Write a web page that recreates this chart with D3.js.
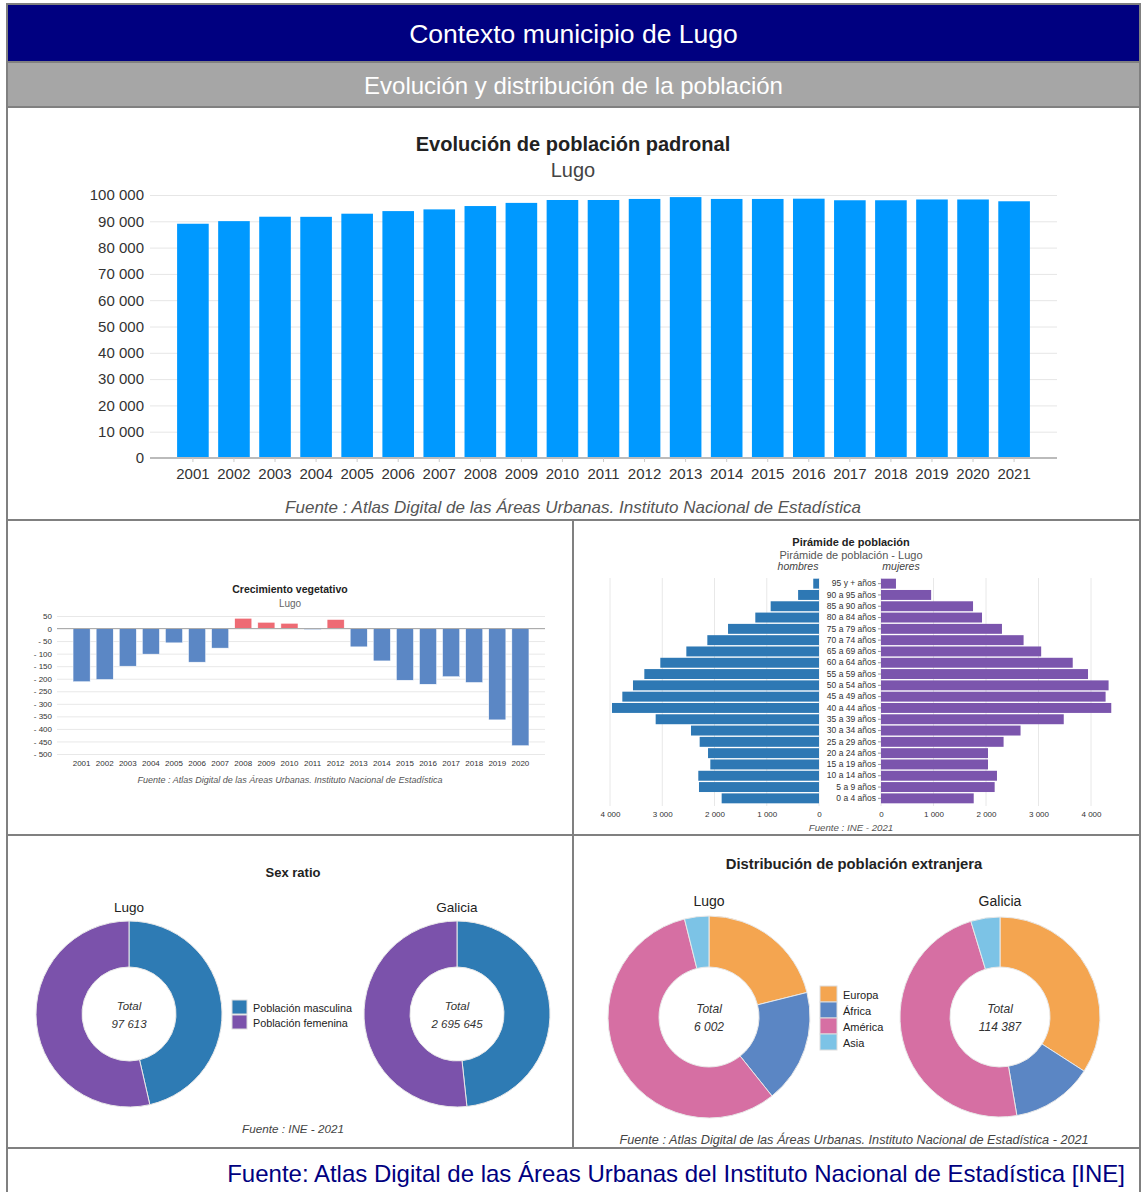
<!DOCTYPE html>
<html>
<head>
<meta charset="utf-8">
<script src="https://cdn.jsdelivr.net/npm/d3@7"></script>
<style>
  body { margin: 0; background: #fff; }
  text { font-family: "Liberation Sans", Arial, sans-serif; }
</style>
</head>
<body>
<div id="panel"></div>
<script>
// datos
var years = ["2001","2002","2003","2004","2005","2006","2007","2008","2009","2010","2011",
             "2012","2013","2014","2015","2016","2017","2018","2019","2020","2021"];
var poblacion = [89070, 90060, 91740, 91700, 92890, 93880, 94530, 95800, 97000, 98100, 98100,
                 98500, 99200, 98500, 98500, 98600, 98000, 98000, 98300, 98300, 97613];

var crecYears = ["2001","2002","2003","2004","2005","2006","2007","2008","2009","2010",
                 "2011","2012","2013","2014","2015","2016","2017","2018","2019","2020"];
var crecimiento = [-212, -203, -150, -102, -57, -134, -78, 41, 25, 21,
                   -4, 36, -73, -129, -206, -222, -192, -215, -364, -467];

var edades = ["95 y + años","90 a 95 años","85 a 90 años","80 a 84 años","75 a 79 años",
              "70 a 74 años","65 a 69 años","60 a 64 años","55 a 59 años","50 a 54 años",
              "45 a 49 años","40 a 44 años","35 a 39 años","30 a 34 años","25 a 29 años",
              "20 a 24 años","15 a 19 años","10 a 14 años","5 a 9 años","0 a 4 años"];
var hombres = [110, 400, 925, 1219, 1741, 2137, 2539, 3037, 3343, 3560,
               3764, 3962, 3126, 2450, 2284, 2124, 2080, 2310, 2297, 1863];
var mujeres = [285, 955, 1753, 1924, 2304, 2716, 3051, 3652, 3943, 4335,
               4278, 4386, 3481, 2658, 2335, 2038, 2038, 2209, 2165, 1766];
var pyrTicks = [0, 1000, 2000, 3000, 4000];

var sexoLabels = ["Población masculina", "Población femenina"];
var sexoLugo = [45300, 52313];
var sexoGalicia = [1302000, 1393645];

var continentes = ["Europa", "África", "América", "Asia"];
var extLugo = [1266, 1092, 3410, 234];
var extGalicia = [39006, 15099, 54906, 5376];

var locale = d3.formatLocale({decimal: ",", thousands: " ", grouping: [3], currency: ["", "€"]});
var fmt = locale.format(",d");

var W = 1141, H = 1192;
var svg = d3.select("#panel")
  .append("svg")
    .attr("width", W)
    .attr("height", H);

// ---------- cabeceras y marcos ----------
svg.append("rect").attr("x", 7).attr("y", 4).attr("width", 1133).attr("height", 58).attr("fill", "#000080");
svg.append("rect").attr("x", 7).attr("y", 62).attr("width", 1133).attr("height", 45).attr("fill", "#a6a6a6");
svg.append("text").attr("x", 573.5).attr("y", 43).attr("text-anchor", "middle")
  .attr("fill", "#fff").attr("font-size", 26.5).text("Contexto municipio de Lugo");
svg.append("text").attr("x", 573.5).attr("y", 94).attr("text-anchor", "middle")
  .attr("fill", "#fff").attr("font-size", 24).text("Evolución y distribución de la población");

var frame = svg.append("g").attr("stroke", "#808080").attr("stroke-width", 2).attr("fill", "none");
frame.append("rect").attr("x", 7).attr("y", 4).attr("width", 1133).attr("height", 1192);
frame.append("line").attr("x1", 7).attr("x2", 1140).attr("y1", 62).attr("y2", 62);
frame.append("line").attr("x1", 7).attr("x2", 1140).attr("y1", 107).attr("y2", 107);
frame.append("line").attr("x1", 7).attr("x2", 1140).attr("y1", 520).attr("y2", 520);
frame.append("line").attr("x1", 7).attr("x2", 1140).attr("y1", 835).attr("y2", 835);
frame.append("line").attr("x1", 7).attr("x2", 1140).attr("y1", 1148).attr("y2", 1148);
frame.append("line").attr("x1", 573).attr("x2", 573).attr("y1", 520).attr("y2", 1148);

svg.append("text").attr("x", 1125).attr("y", 1182).attr("text-anchor", "end")
  .attr("fill", "#000080").attr("font-size", 24)
  .text("Fuente: Atlas Digital de las Áreas Urbanas del Instituto Nacional de Estadística [INE]");

// ---------- evolucion de poblacion ----------
var g1 = svg.append("g");
var x1 = d3.scaleBand().domain(years).range([150, 1057]).paddingInner(0.23).paddingOuter(0.66);
var y1 = d3.scaleLinear().domain([0, 100000]).range([458, 195]);

g1.append("g")
  .attr("transform", "translate(150,0)")
  .call(d3.axisLeft(y1).ticks(10).tickSize(-907).tickFormat(""))
  .call(function(g) { g.select(".domain").remove(); })
  .selectAll("line").attr("stroke", "#e6e6e6");

g1.append("g")
  .attr("transform", "translate(147,0)")
  .call(d3.axisLeft(y1).ticks(10).tickSize(0).tickFormat(fmt))
  .call(function(g) { g.select(".domain").remove(); })
  .selectAll("text").attr("font-size", 15).attr("fill", "#333")
  .attr("font-family", "Liberation Sans, Arial, sans-serif");

g1.selectAll(".bar")
  .data(poblacion)
  .enter().append("rect")
    .attr("x", function(d, i) { return x1(years[i]); })
    .attr("y", function(d) { return y1(d); })
    .attr("width", x1.bandwidth())
    .attr("height", function(d) { return y1(0) - y1(d); })
    .attr("fill", "#0099ff");

g1.append("g")
  .attr("transform", "translate(0,458)")
  .call(d3.axisBottom(x1).tickSize(4).tickPadding(6))
  .call(function(g) { g.select(".domain").attr("stroke", "#bbb").attr("stroke-width", 2).attr("d", "M150,0H1057"); })
  .call(function(g) { g.selectAll("line").attr("stroke", "#ccc"); })
  .selectAll("text").attr("font-size", 15).attr("fill", "#333")
  .attr("font-family", "Liberation Sans, Arial, sans-serif");

g1.append("text").attr("x", 573).attr("y", 151).attr("text-anchor", "middle")
  .attr("font-size", 20).attr("font-weight", "bold").attr("fill", "#222").text("Evolución de población padronal");
g1.append("text").attr("x", 573).attr("y", 177).attr("text-anchor", "middle")
  .attr("font-size", 20).attr("fill", "#444").text("Lugo");
g1.append("text").attr("x", 573).attr("y", 513).attr("text-anchor", "middle")
  .attr("font-size", 17).attr("font-style", "italic").attr("fill", "#555")
  .text("Fuente : Atlas Digital de las Áreas Urbanas. Instituto Nacional de Estadística");

// ---------- crecimiento vegetativo ----------
var g2 = svg.append("g");
var x2 = d3.scaleBand().domain(crecYears).range([57, 545]).paddingInner(0.26).paddingOuter(0.695);
var y2 = d3.scaleLinear().domain([-500, 50]).range([754, 616]);
var crecTicks = d3.range(-500, 51, 50);

g2.append("g")
  .attr("transform", "translate(57,0)")
  .call(d3.axisLeft(y2).tickValues(crecTicks).tickSize(-488).tickFormat(""))
  .call(function(g) { g.select(".domain").remove(); })
  .selectAll("line").attr("stroke", "#e8e8e8");

g2.append("g")
  .attr("transform", "translate(55,0)")
  .call(d3.axisLeft(y2).tickValues(crecTicks).tickSize(0)
    .tickFormat(function(d) { return d < 0 ? "- " + (-d) : d; }))
  .call(function(g) { g.select(".domain").remove(); })
  .selectAll("text").attr("font-size", 8).attr("fill", "#333")
  .attr("font-family", "Liberation Sans, Arial, sans-serif");

g2.selectAll(".bar")
  .data(crecimiento)
  .enter().append("rect")
    .attr("x", function(d, i) { return x2(crecYears[i]); })
    .attr("y", function(d) { return y2(Math.max(0, d)); })
    .attr("width", x2.bandwidth())
    .attr("height", function(d) { return Math.abs(y2(d) - y2(0)); })
    .attr("fill", function(d) { return d < 0 ? "#5b87c5" : "#ee6b74"; })
    .attr("stroke", "#fff").attr("stroke-width", 0.5);

g2.append("line").attr("x1", 57).attr("x2", 545).attr("y1", y2(0)).attr("y2", y2(0))
  .attr("stroke", "#aaa");

g2.append("g")
  .attr("transform", "translate(0,757)")
  .call(d3.axisBottom(x2).tickSize(0).tickPadding(3))
  .call(function(g) { g.select(".domain").remove(); })
  .selectAll("text").attr("font-size", 8).attr("fill", "#333")
  .attr("font-family", "Liberation Sans, Arial, sans-serif");

g2.append("text").attr("x", 290).attr("y", 593).attr("text-anchor", "middle")
  .attr("font-size", 10.5).attr("font-weight", "bold").attr("fill", "#222").text("Crecimiento vegetativo");
g2.append("text").attr("x", 290).attr("y", 607).attr("text-anchor", "middle")
  .attr("font-size", 10).attr("fill", "#666").text("Lugo");
g2.append("text").attr("x", 290).attr("y", 783).attr("text-anchor", "middle")
  .attr("font-size", 9).attr("font-style", "italic").attr("fill", "#555")
  .text("Fuente : Atlas Digital de las Áreas Urbanas. Instituto Nacional de Estadística");

// ---------- piramide ----------
var g3 = svg.append("g");
var yP = d3.scaleBand().domain(edades).range([578, 804]).paddingInner(0.12).paddingOuter(0.06);
var xL = d3.scaleLinear().domain([0, 4000]).range([819, 610]);
var xR = d3.scaleLinear().domain([0, 4000]).range([881, 1091]);

g3.selectAll(".gl").data(pyrTicks).enter().append("line")
  .attr("x1", function(d) { return xL(d); }).attr("x2", function(d) { return xL(d); })
  .attr("y1", 578).attr("y2", 806).attr("stroke", "#e8e8e8");
g3.selectAll(".gr").data(pyrTicks).enter().append("line")
  .attr("x1", function(d) { return xR(d); }).attr("x2", function(d) { return xR(d); })
  .attr("y1", 578).attr("y2", 806).attr("stroke", "#e8e8e8");

g3.selectAll(".hb").data(hombres).enter().append("rect")
  .attr("x", function(d) { return xL(d); })
  .attr("y", function(d, i) { return yP(edades[i]); })
  .attr("width", function(d) { return xL(0) - xL(d); })
  .attr("height", yP.bandwidth())
  .attr("fill", "#2e78b4");

g3.selectAll(".mj").data(mujeres).enter().append("rect")
  .attr("x", xR(0))
  .attr("y", function(d, i) { return yP(edades[i]); })
  .attr("width", function(d) { return xR(d) - xR(0); })
  .attr("height", yP.bandwidth())
  .attr("fill", "#7b55ad");

g3.append("g")
  .attr("transform", "translate(881,0)")
  .call(d3.axisLeft(yP).tickSize(3).tickPadding(2))
  .call(function(g) { g.select(".domain").remove(); })
  .call(function(g) { g.selectAll("line").attr("stroke", "#999"); })
  .selectAll("text").attr("font-size", 8.5).attr("fill", "#333")
  .attr("font-family", "Liberation Sans, Arial, sans-serif");

g3.append("g")
  .attr("transform", "translate(0,808)")
  .call(d3.axisBottom(xL).tickValues(pyrTicks).tickSize(0).tickFormat(fmt))
  .call(function(g) { g.select(".domain").remove(); })
  .selectAll("text").attr("font-size", 8).attr("fill", "#333")
  .attr("font-family", "Liberation Sans, Arial, sans-serif");
g3.append("g")
  .attr("transform", "translate(0,808)")
  .call(d3.axisBottom(xR).tickValues(pyrTicks).tickSize(0).tickFormat(fmt))
  .call(function(g) { g.select(".domain").remove(); })
  .selectAll("text").attr("font-size", 8).attr("fill", "#333")
  .attr("font-family", "Liberation Sans, Arial, sans-serif");

g3.append("text").attr("x", 851).attr("y", 546).attr("text-anchor", "middle")
  .attr("font-size", 11).attr("font-weight", "bold").attr("fill", "#222").text("Pirámide de población");
g3.append("text").attr("x", 851).attr("y", 559).attr("text-anchor", "middle")
  .attr("font-size", 11).attr("fill", "#555").text("Pirámide de población - Lugo");
g3.append("text").attr("x", 798).attr("y", 570).attr("text-anchor", "middle")
  .attr("font-size", 10.5).attr("font-style", "italic").attr("fill", "#444").text("hombres");
g3.append("text").attr("x", 901).attr("y", 570).attr("text-anchor", "middle")
  .attr("font-size", 10.5).attr("font-style", "italic").attr("fill", "#444").text("mujeres");
g3.append("text").attr("x", 851).attr("y", 831).attr("text-anchor", "middle")
  .attr("font-size", 9.7).attr("font-style", "italic").attr("fill", "#555").text("Fuente : INE - 2021");

// ---------- donuts ----------
var pie = d3.pie().sort(null);

function donut(g, cx, cy, rOut, rIn, values, colors, name, nameY, fs) {
  var arc = d3.arc().innerRadius(rIn).outerRadius(rOut);
  var dg = g.append("g").attr("transform", "translate(" + cx + "," + cy + ")");
  dg.selectAll("path").data(pie(values)).enter().append("path")
    .attr("d", arc)
    .attr("fill", function(d, i) { return colors[i]; })
    .attr("stroke", "#e8e8e8").attr("stroke-width", 1);
  dg.append("text").attr("y", -4).attr("text-anchor", "middle")
    .attr("font-size", fs).attr("font-style", "italic").attr("fill", "#333").text("Total");
  dg.append("text").attr("y", 14).attr("text-anchor", "middle")
    .attr("font-size", fs).attr("font-style", "italic").attr("fill", "#333").text(fmt(d3.sum(values)));
  g.append("text").attr("x", cx).attr("y", nameY).attr("text-anchor", "middle")
    .attr("font-size", fs + 2).attr("fill", "#222").text(name);
}

function legend(g, x, y, labels, colors, size, gap, fs) {
  labels.forEach(function(l, i) {
    g.append("rect").attr("x", x).attr("y", y + i * gap).attr("width", size).attr("height", size - 1)
      .attr("fill", colors[i]).attr("stroke", "#ddd");
    g.append("text").attr("x", x + size + 6).attr("y", y + i * gap + size / 2 + 4)
      .attr("font-size", fs).attr("fill", "#222").text(l);
  });
}

var sexColors = ["#2e7bb4", "#7b52ab"];
var g4 = svg.append("g");
g4.append("text").attr("x", 293).attr("y", 877).attr("text-anchor", "middle")
  .attr("font-size", 13).attr("font-weight", "bold").attr("fill", "#222").text("Sex ratio");
donut(g4, 129, 1014, 93, 47, sexoLugo, sexColors, "Lugo", 912, 11.5);
donut(g4, 457, 1014, 93, 47, sexoGalicia, sexColors, "Galicia", 912, 11.5);
legend(g4, 232, 1000, sexoLabels, sexColors, 15, 15, 10.8);
g4.append("text").attr("x", 293).attr("y", 1133).attr("text-anchor", "middle")
  .attr("font-size", 11.7).attr("font-style", "italic").attr("fill", "#444").text("Fuente : INE - 2021");

var extColors = ["#f4a550", "#5b86c4", "#d66fa3", "#7cc3e6"];
var g5 = svg.append("g");
g5.append("text").attr("x", 854).attr("y", 869).attr("text-anchor", "middle")
  .attr("font-size", 14.8).attr("font-weight", "bold").attr("fill", "#222").text("Distribución de población extranjera");
donut(g5, 709, 1017, 101, 50, extLugo, extColors, "Lugo", 906, 12);
donut(g5, 1000, 1017, 100, 50, extGalicia, extColors, "Galicia", 906, 12);
legend(g5, 820, 986, continentes, extColors, 17, 16, 11);
g5.append("text").attr("x", 854).attr("y", 1144).attr("text-anchor", "middle")
  .attr("font-size", 12.7).attr("font-style", "italic").attr("fill", "#444")
  .text("Fuente : Atlas Digital de las Áreas Urbanas. Instituto Nacional de Estadística - 2021");
</script>
</body>
</html>
